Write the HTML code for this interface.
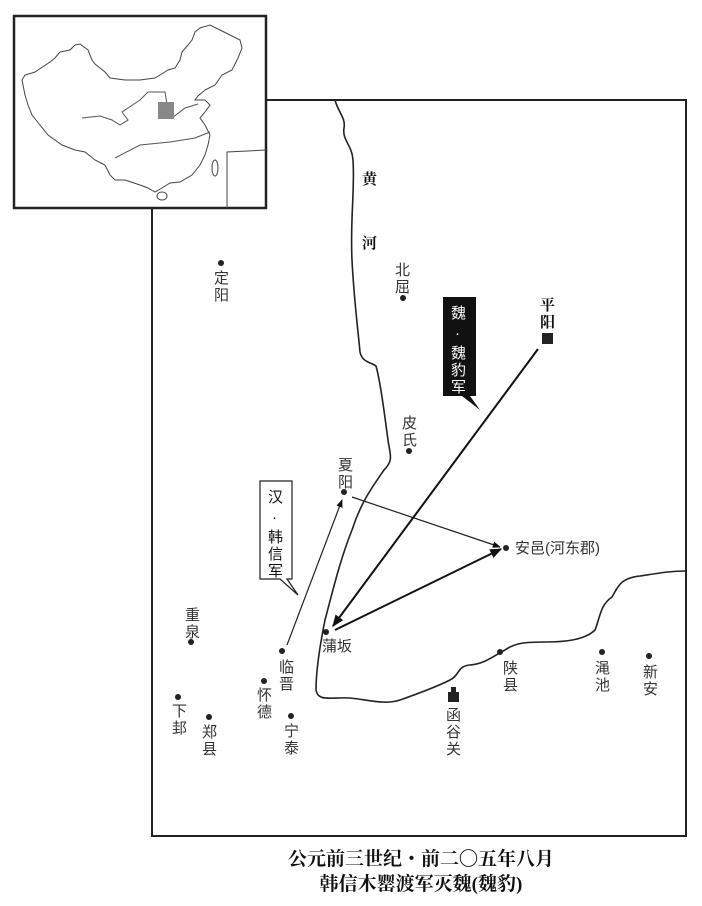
<!DOCTYPE html>
<html><head><meta charset="utf-8"><style>
body{margin:0;background:#fff;}
svg{display:block;}
text{font-family:"Liberation Sans","Noto Sans CJK SC",sans-serif;fill:#333;}
.v{font-size:15px;}
.b{font-family:"Liberation Serif","Noto Serif CJK SC",serif;font-weight:bold;fill:#111;}
</style></head><body>
<svg width="702" height="906" viewBox="0 0 702 906" xmlns="http://www.w3.org/2000/svg">
<defs>
<marker id="a" viewBox="0 0 10 10" refX="9" refY="5" markerWidth="8" markerHeight="8" orient="auto" markerUnits="userSpaceOnUse"><path d="M0,1 L10,5 L0,9 z" fill="#111"/></marker>
<marker id="a2" viewBox="0 0 10 10" refX="9" refY="5" markerWidth="12" markerHeight="12" orient="auto" markerUnits="userSpaceOnUse"><path d="M0,1 L10,5 L0,9 z" fill="#111"/></marker>
</defs>
<path d="M152,205 L152,836 L686,836 L686,100 L266,100" fill="none" stroke="#222" stroke-width="2"/>
<rect x="14" y="16" width="252" height="192" fill="#fff" stroke="#222" stroke-width="2.5"/>
<path d="M22,80 L25,75 L35,72 L50,62 L55,58 L60,52 L70,50 L75,45 L80,44 L88,50 L92,60 L95,64 L105,72 L110,78 L125,80 L140,80 L155,78 L160,75 L168,70 L175,68 L180,60 L182,52 L188,45 L192,40 L195,32 L200,28 L210,25 L220,30 L230,35 L240,40 L242,48 L238,58 L232,70 L222,75 L215,85 L205,90 L198,96 L195,100 L205,100 L210,105 L205,112 L200,118 L205,125 L210,135 L208,145 L205,155 L200,165 L192,175 L180,182 L170,183 L162,188 L155,192 L148,188 L140,185 L125,180 L115,180 L110,175 L105,165 L95,160 L85,152 L75,150 L62,145 L48,135 L40,125 L32,115 L28,105 L25,95 Z" fill="none" stroke="#444" stroke-width="1"/>
<path d="M82,118 L100,116 L112,120 L120,125 L128,120 L122,112 L140,100 L148,92 L165,92 L168,110 L172,118 L185,108 L198,104" fill="none" stroke="#555" stroke-width="1"/>
<path d="M115,158 L140,145 L170,142 L195,138 L210,132" fill="none" stroke="#555" stroke-width="1"/>
<rect x="158" y="102" width="16" height="17" fill="#888"/>
<path d="M227,208 L227,152 L266,150" fill="none" stroke="#444" stroke-width="1"/>
<ellipse cx="215" cy="168" rx="3" ry="8" fill="none" stroke="#444"/>
<ellipse cx="162" cy="196" rx="5" ry="4" fill="none" stroke="#444"/>
<path d="M335,100 C338,112 346,118 344,128 C342,140 352,145 353,160 C355,190 350,220 352,260 C354,300 358,330 360,352 C362,362 370,362 376,366 C380,380 384,410 388,440 C390,455 394,460 384,470 C370,490 360,505 352,530 C340,560 333,590 325,620 C320,645 316,670 316,690 C318,702 330,697 350,698 C370,700 385,705 400,700 C420,693 440,685 450,680 C460,675 457,666 470,665 C485,664 495,655 505,650 C515,643 525,642 545,642 C565,642 585,640 595,630 C600,618 600,605 612,597 C618,587 620,578 640,576 C660,573 670,571 686,571" fill="none" stroke="#222" stroke-width="1.6"/>
<text class="b" x="362" y="184" font-size="15">黄</text>
<text class="b" x="362" y="248" font-size="15">河</text>
<line x1="287" y1="645" x2="342" y2="500" stroke="#222" stroke-width="1.2" marker-end="url(#a)"/>
<line x1="352" y1="497" x2="500" y2="547" stroke="#222" stroke-width="1.2" marker-end="url(#a)"/>
<line x1="538" y1="349" x2="333" y2="626" stroke="#111" stroke-width="2" marker-end="url(#a2)"/>
<line x1="335" y1="630" x2="501" y2="549" stroke="#111" stroke-width="2" marker-end="url(#a2)"/>
<path d="M443,297 L476,297 L476,396 L470,396 L480,410 L462,396 L443,396 Z" fill="#111"/>
<text x="451" y="318" class="v" style="fill:#fff">魏</text>
<text x="455" y="338" class="v" style="fill:#fff">·</text>
<text x="451" y="358" class="v" style="fill:#fff">魏</text>
<text x="451" y="375" class="v" style="fill:#fff">豹</text>
<text x="451" y="392" class="v" style="fill:#fff">军</text>
<path d="M260,481 L292,481 L292,579 L287,579 L298,595 L280,579 L260,579 Z" fill="#fff" stroke="#222" stroke-width="1.2"/>
<text x="268" y="502" font-size="15" style="fill:#111">汉</text>
<text x="272" y="522" font-size="15" style="fill:#111">·</text>
<text x="268" y="542" font-size="15" style="fill:#111">韩</text>
<text x="268" y="559" font-size="15" style="fill:#111">信</text>
<text x="268" y="576" font-size="15" style="fill:#111">军</text>
<g fill="#222">
<circle cx="221" cy="263" r="3"/><circle cx="403" cy="298" r="3"/><circle cx="409" cy="451" r="3"/>
<circle cx="344" cy="492" r="3"/><circle cx="506" cy="548" r="3"/><circle cx="191" cy="642" r="3"/>
<circle cx="282" cy="651" r="3"/><circle cx="326" cy="632" r="3"/><circle cx="264" cy="681" r="3"/>
<circle cx="178" cy="697" r="3"/><circle cx="209" cy="717" r="3"/><circle cx="291" cy="716" r="3"/>
<circle cx="500" cy="652" r="3"/><circle cx="602" cy="652" r="3"/><circle cx="649" cy="656" r="3"/>
<rect x="542" y="333" width="11" height="11"/>
<rect x="448" y="692" width="11" height="10"/><rect x="451" y="687" width="5" height="6"/>
</g>
<g class="v">
<text x="214" y="283">定</text><text x="214" y="300">阳</text>
<text x="395" y="275">北</text><text x="395" y="292">屈</text>
<text class="b" x="540" y="310" font-size="15">平</text><text class="b" x="540" y="327" font-size="15">阳</text>
<text x="402" y="428">皮</text><text x="402" y="445">氏</text>
<text x="338" y="470">夏</text><text x="338" y="487">阳</text>
<text x="515" y="553">安邑(河东郡)</text>
<text x="185" y="620">重</text><text x="185" y="637">泉</text>
<text x="322" y="651">蒲坂</text>
<text x="279" y="672">临</text><text x="279" y="689">晋</text>
<text x="257" y="700">怀</text><text x="257" y="717">德</text>
<text x="172" y="716">下</text><text x="172" y="733">邽</text>
<text x="202" y="737">郑</text><text x="202" y="754">县</text>
<text x="284" y="736">宁</text><text x="284" y="753">泰</text>
<text x="446" y="720">函</text><text x="446" y="737">谷</text><text x="446" y="754">关</text>
<text x="503" y="673">陕</text><text x="503" y="690">县</text>
<text x="595" y="673">渑</text><text x="595" y="690">池</text>
<text x="643" y="677">新</text><text x="643" y="694">安</text>
</g>
<text class="b" x="421" y="865" font-size="19" text-anchor="middle">公元前三世纪・前二〇五年八月</text>
<text class="b" x="421" y="890" font-size="19" text-anchor="middle">韩信木罂渡军灭魏(魏豹)</text>
</svg>
</body></html>
